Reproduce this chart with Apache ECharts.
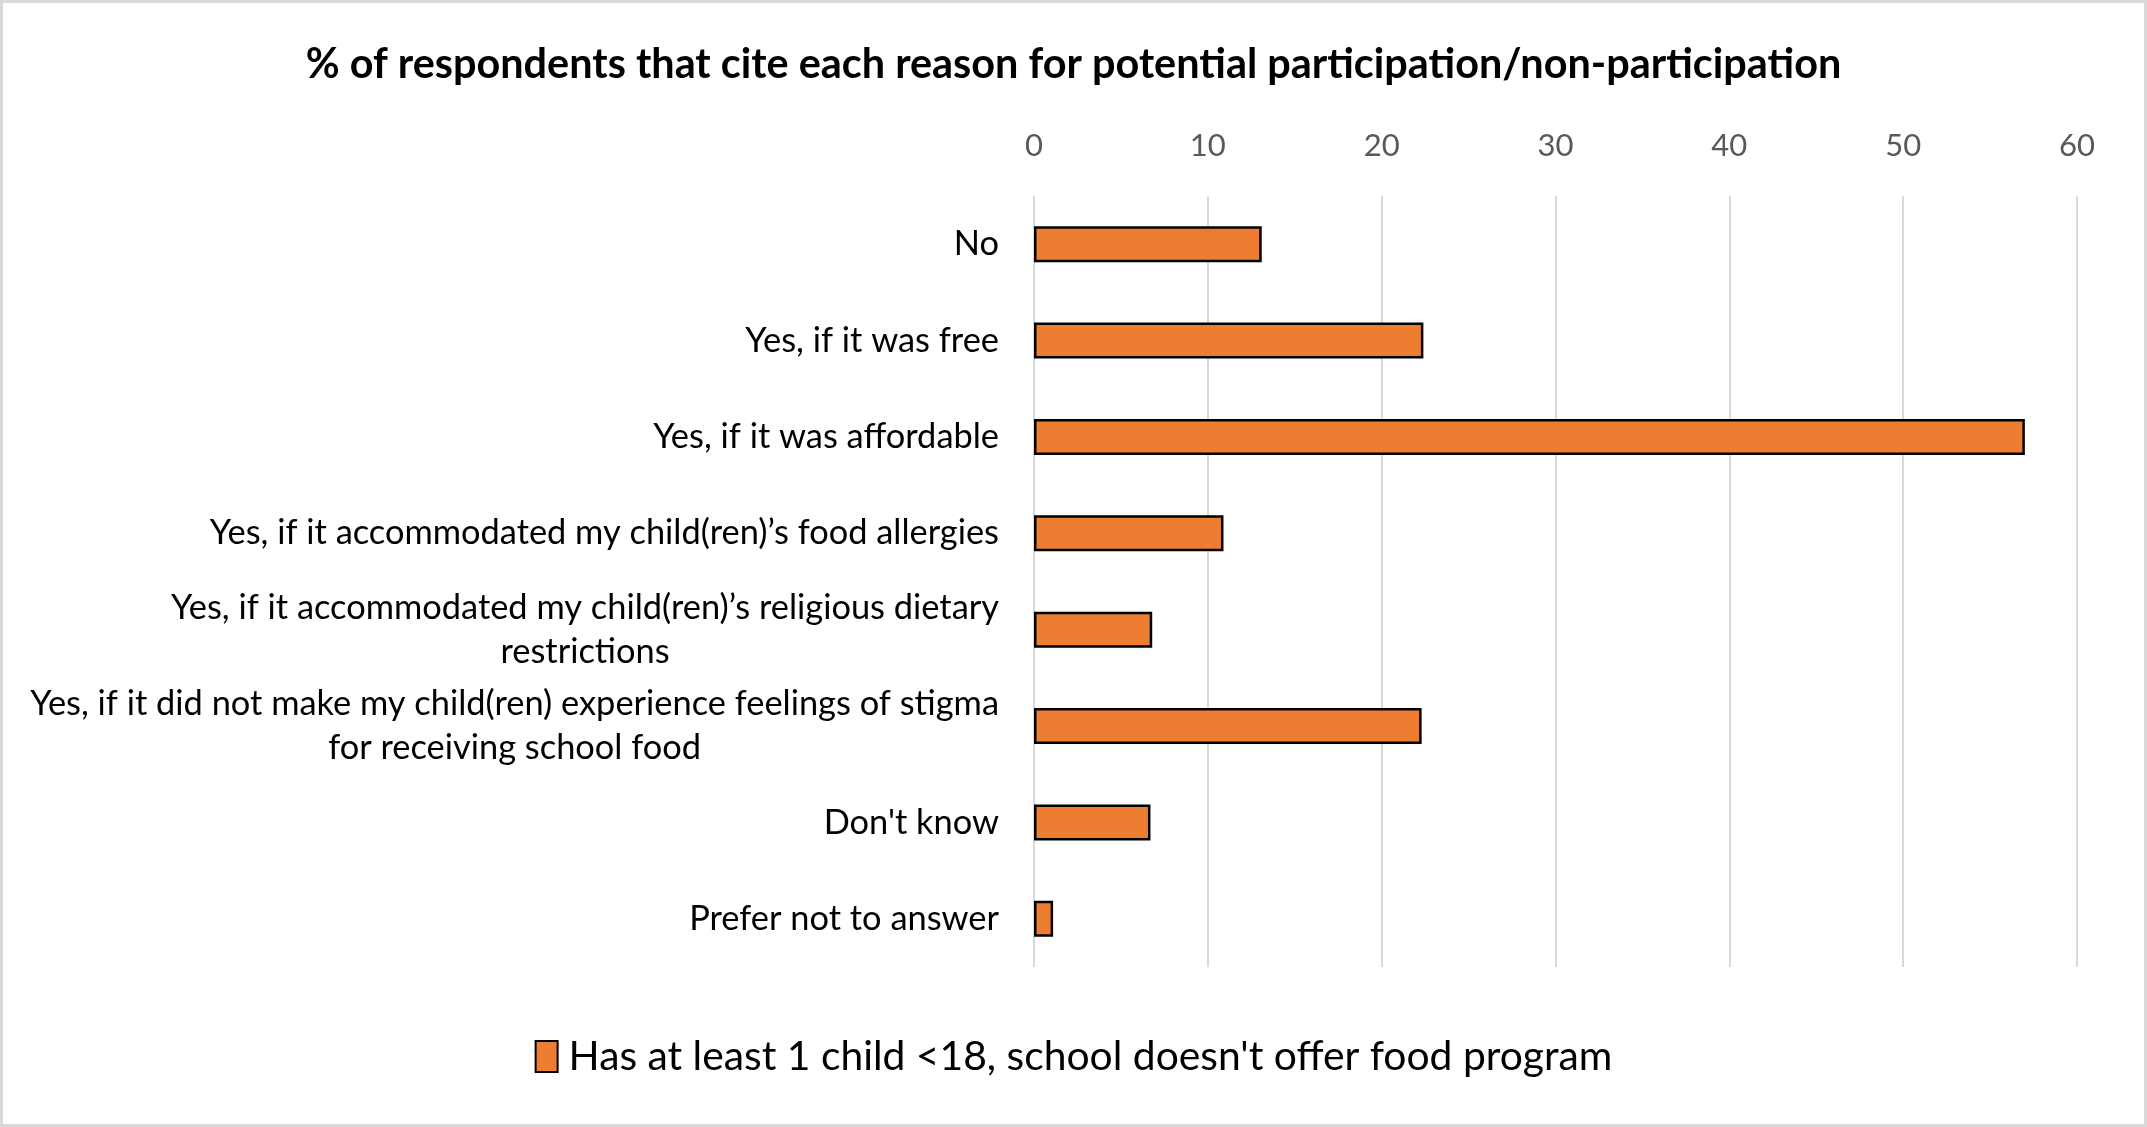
<!DOCTYPE html>
<html>
<head>
<meta charset="utf-8">
<script src="https://cdn.jsdelivr.net/npm/echarts@6/dist/echarts.min.js"></script>
<style>
html,body{margin:0;padding:0;background:#fff;}
#chart{width:2147px;height:1127px;}
</style>
</head>
<body>
<div id="chart"></div>
<script>
const titleText = '% of respondents that cite each reason for potential participation/non-participation';
const seriesName = "Has at least 1 child <18, school doesn't offer food program";
const categories = [
  'No',
  'Yes, if it was free',
  'Yes, if it was affordable',
  'Yes, if it accommodated my child(ren)\u2019s food allergies',
  'Yes, if it accommodated my child(ren)\u2019s religious dietary\nrestrictions',
  'Yes, if it did not make my child(ren) experience feelings of stigma\nfor receiving school food',
  "Don't know",
  'Prefer not to answer'
];
const values = [13.1, 22.4, 57.0, 10.9, 6.8, 22.3, 6.7, 1.1];
const axisMin = 0, axisMax = 60, axisStep = 10;

const chart = echarts.init(document.getElementById('chart'), null, {renderer: 'canvas'});
const FONT = 'Lato';
chart.setOption({
  backgroundColor: '#ffffff',
  animation: false,
  graphic: [{
    type: 'rect', silent: true, z: 100,
    shape: {x: 1.5, y: 1.5, width: 2144, height: 1124},
    style: {fill: 'none', stroke: '#d9d9d9', lineWidth: 3}
  }],
  title: {
    text: titleText,
    left: 'center',
    top: 39,
    textStyle: {fontFamily: FONT, fontWeight: 'bold', fontSize: 41.4, color: '#000'}
  },
  legend: {
    bottom: 45,
    left: 'center',
    itemWidth: 22,
    itemHeight: 31,
    itemGap: 10,
    textStyle: {fontFamily: FONT, fontSize: 40.8, color: '#000', padding: [0, 0, 0, 6]},
    data: [{name: seriesName, icon: 'rect'}]
  },
  grid: {left: 1034, right: 70, top: 196, bottom: 160, containLabel: false},
  xAxis: {
    type: 'value',
    position: 'top',
    min: axisMin, max: axisMax, interval: axisStep,
    axisLine: {show: false},
    axisTick: {show: false},
    axisLabel: {fontFamily: FONT, fontSize: 31, color: '#595959', margin: 35},
    splitLine: {show: true, lineStyle: {color: '#d9d9d9', width: 2}}
  },
  yAxis: {
    type: 'category',
    inverse: true,
    data: categories,
    axisLine: {show: false},
    axisTick: {show: false},
    axisLabel: {
      margin: 35,
      formatter: function (v) {
        return v.split('\n').map(function (l) { return '{c|' + l + '}'; }).join('\n');
      },
      rich: {
        c: {fontFamily: FONT, fontSize: 34.4, color: '#000', align: 'center', lineHeight: 44}
      }
    }
  },
  series: [{
    name: seriesName,
    type: 'bar',
    data: values,
    barWidth: 36,
    itemStyle: {color: '#ED7D31', borderColor: '#000', borderWidth: 2.5}
  }]
});
</script>
</body>
</html>
